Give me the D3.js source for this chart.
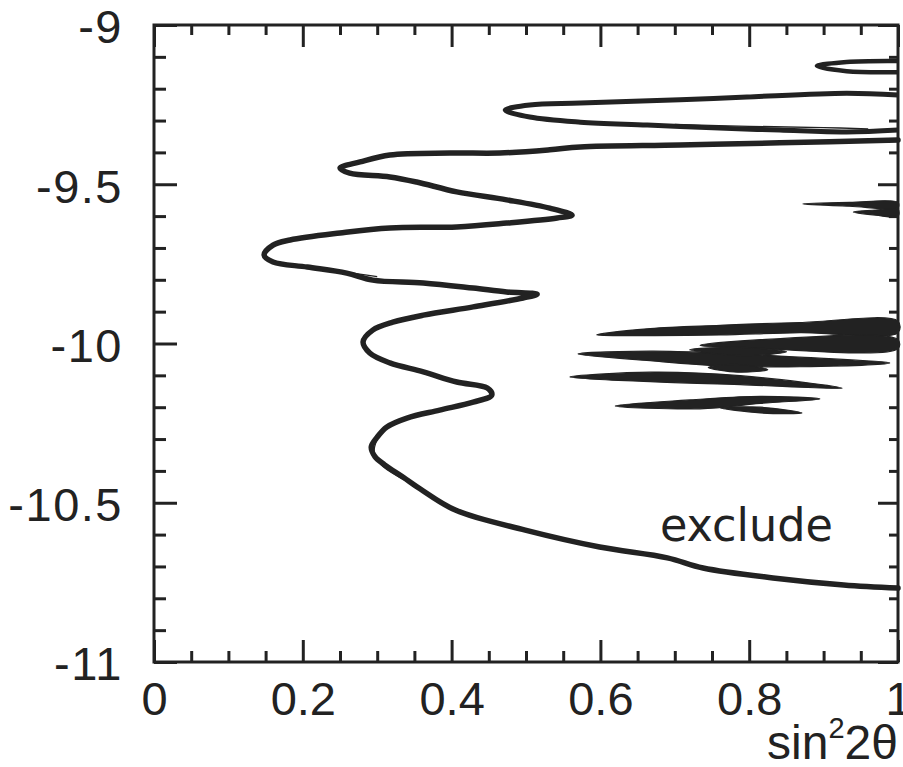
<!DOCTYPE html>
<html><head><meta charset="utf-8">
<script src="https://cdn.jsdelivr.net/npm/d3@7"></script>
<style>body{margin:0;background:#fff}</style>
</head><body>
<svg id="c" width="903" height="767"></svg>
<script>
// ---------- data ----------
const xDomain = [0, 1];
const yDomain = [-11, -9];
const xMajorTicks = [0, 0.2, 0.4, 0.6, 0.8, 1];
const xTickLabels = ["0", "0.2", "0.4", "0.6", "0.8", "1"];
const xMinorTicks = [0.05,0.1,0.15,0.25,0.3,0.35,0.45,0.5,0.55,0.65,0.7,0.75,0.85,0.9,0.95];
const yMajorTicks = [-9, -9.5, -10, -10.5, -11];
const yTickLabels = ["-9", "-9.5", "-10", "-10.5", "-11"];
const yMinorTicks = [-9.1,-9.2,-9.3,-9.4,-9.6,-9.7,-9.8,-9.9,-10.1,-10.2,-10.3,-10.4,-10.6,-10.7,-10.8,-10.9];
const xLabelMain = "sin", xLabelSup = "2", xLabelTail = "2θ";
const annotation = "exclude";

// main exclusion contour (sin^2 2θ, log Δm²)
const mainContour = [[1.0,-9.361],[0.841,-9.370],[0.707,-9.377],[0.573,-9.383],[0.532,-9.392],[0.465,-9.402],[0.398,-9.402],[0.317,-9.408],[0.277,-9.430],[0.250,-9.449],[0.263,-9.465],[0.317,-9.477],[0.353,-9.493],[0.407,-9.524],[0.474,-9.549],[0.532,-9.575],[0.562,-9.597],[0.542,-9.606],[0.474,-9.622],[0.407,-9.634],[0.317,-9.637],[0.250,-9.653],[0.183,-9.675],[0.160,-9.691],[0.148,-9.722],[0.160,-9.744],[0.206,-9.760],[0.259,-9.779],[0.294,-9.801],[0.362,-9.810],[0.429,-9.826],[0.474,-9.838],[0.515,-9.845],[0.496,-9.857],[0.429,-9.885],[0.362,-9.911],[0.321,-9.933],[0.294,-9.958],[0.281,-9.995],[0.290,-10.030],[0.317,-10.061],[0.362,-10.089],[0.407,-10.121],[0.448,-10.140],[0.454,-10.162],[0.429,-10.184],[0.384,-10.209],[0.340,-10.234],[0.313,-10.262],[0.300,-10.294],[0.292,-10.325],[0.297,-10.355],[0.310,-10.381],[0.335,-10.420],[0.358,-10.457],[0.405,-10.523],[0.499,-10.586],[0.599,-10.639],[0.690,-10.673],[0.738,-10.705],[0.832,-10.736],[0.927,-10.758],[1.0,-10.768]];
// faint inner doubled traces of the contour
const innerTrace1 = [[0.160,-9.740],[0.200,-9.762],[0.255,-9.775],[0.300,-9.790]];
const innerTrace2 = [[0.300,-10.300],[0.296,-10.340],[0.305,-10.380],[0.330,-10.420],[0.360,-10.455]];
const upperLoop = [[1.0,-9.220],[0.931,-9.214],[0.797,-9.226],[0.707,-9.235],[0.573,-9.245],[0.505,-9.251],[0.472,-9.267],[0.505,-9.289],[0.573,-9.305],[0.663,-9.314],[0.751,-9.323],[0.841,-9.330],[0.931,-9.336],[1.0,-9.330]];
const upperLoopInner = [[0.700,-9.312],[0.800,-9.318],[0.900,-9.322],[0.960,-9.326]];
const topLoop = [[1.0,-9.113],[0.931,-9.116],[0.891,-9.129],[0.931,-9.145],[1.0,-9.148]];
// filled islands: [sin^2 2θ, centre log Δm², half-thickness in log Δm²]
const islandT1 = [[0.872,-9.562,0],[0.935,-9.563,0.006],[1.0,-9.565,0.008]];
const islandT2 = [[0.940,-9.587,0],[0.970,-9.589,0.008],[1.0,-9.590,0.011]];
const islandA = [[0.595,-9.973,0],[0.667,-9.964,0.011],[0.761,-9.958,0.015],[0.868,-9.950,0.016],[1.0,-9.948,0.018]];
const islandB = [[0.734,-10.006,0],[0.815,-10.002,0.014],[1.0,-10.002,0.014]];
const islandC = [[0.570,-10.033,0],[0.667,-10.039,0.015],[0.761,-10.050,0.020],[0.868,-10.058,0.015],[0.989,-10.061,0]];
const islandD = [[0.559,-10.105,0],[0.667,-10.105,0.015],[0.788,-10.115,0.014],[0.925,-10.140,0]];
const islandE = [[0.620,-10.196,0],[0.734,-10.190,0.015],[0.815,-10.177,0.011],[0.895,-10.174,0]];
const islandF = [[0.761,-10.202,0],[0.815,-10.209,0.009],[0.871,-10.218,0]];
const islandG = [[0.720,-10.020,0],[0.790,-10.025,0.013],[0.850,-10.026,0]];
const islandH = [[0.745,-10.075,0],[0.785,-10.078,0.012],[0.825,-10.082,0]];

// ---------- drawing ----------
const W = 903, H = 767;
const m = {left:154, right:5, top:25, bottom:105};
const ink = "#222";
const font = "'Liberation Sans', Arial, Helvetica, sans-serif";
const svg = d3.select("#c");
const x = d3.scaleLinear().domain(xDomain).range([m.left, W - m.right]);
const y = d3.scaleLinear().domain(yDomain).range([H - m.bottom, m.top]);

const line = d3.line().x(d => x(d[0])).y(d => y(d[1])).curve(d3.curveCatmullRom.alpha(0.5));
const closed = d3.line().x(d => x(d[0])).y(d => y(d[1])).curve(d3.curveCatmullRomClosed.alpha(0.5));
function islandOutline(c){
  const up = c.map(d => [d[0], d[1] + d[2]]);
  const lo = c.filter(d => d[2] > 0).map(d => [d[0], d[1] - d[2]]).reverse();
  return up.concat(lo);
}

const plot = svg.append("g");
[islandA, islandB, islandC, islandD, islandE, islandF, islandG, islandH, islandT1, islandT2].forEach(c => {
  plot.append("path").attr("d", closed(islandOutline(c))).attr("fill", ink).attr("stroke", ink).attr("stroke-width", 1.2).attr("stroke-linejoin","round");
});
plot.append("path").attr("d", line(mainContour)).attr("fill","none").attr("stroke",ink).attr("stroke-width",5.5).attr("stroke-linejoin","round").attr("stroke-linecap","round");
[innerTrace1, innerTrace2, upperLoopInner].forEach(c => {
  plot.append("path").attr("d", line(c)).attr("fill","none").attr("stroke",ink).attr("stroke-width",1.3);
});
plot.append("path").attr("d", line(upperLoop)).attr("fill","none").attr("stroke",ink).attr("stroke-width",5).attr("stroke-linejoin","round");
plot.append("path").attr("d", line(topLoop)).attr("fill","none").attr("stroke",ink).attr("stroke-width",4.5).attr("stroke-linejoin","round");

function styleAxis(g){
  g.select(".domain").remove();
  g.selectAll("line").attr("stroke", ink).attr("stroke-width", 3);
  g.selectAll("text").attr("fill", ink).attr("font-family", font).attr("font-size", 47);
}
// bottom
svg.append("g").attr("transform",`translate(0,${y(-11)})`)
  .call(d3.axisBottom(x).tickValues(xMajorTicks).tickSize(-22).tickPadding(20).tickFormat((d,i)=>xTickLabels[i])).call(styleAxis);
svg.append("g").attr("transform",`translate(0,${y(-11)})`)
  .call(d3.axisBottom(x).tickValues(xMinorTicks).tickSize(-11).tickFormat("")).call(styleAxis);
// top
svg.append("g").attr("transform",`translate(0,${y(-9)})`)
  .call(d3.axisTop(x).tickValues(xMajorTicks).tickSize(-22).tickFormat("")).call(styleAxis);
svg.append("g").attr("transform",`translate(0,${y(-9)})`)
  .call(d3.axisTop(x).tickValues(xMinorTicks).tickSize(-10).tickFormat("")).call(styleAxis);
// left
const gl = svg.append("g").attr("transform",`translate(${x(0)},0)`)
  .call(d3.axisLeft(y).tickValues(yMajorTicks).tickSize(-23).tickPadding(31).tickFormat((d,i)=>yTickLabels[i])).call(styleAxis);
gl.selectAll("text").attr("dy","0.38em").attr("letter-spacing", 1.5);
svg.append("g").attr("transform",`translate(${x(0)},0)`)
  .call(d3.axisLeft(y).tickValues(yMinorTicks).tickSize(-12).tickFormat("")).call(styleAxis);
// right
svg.append("g").attr("transform",`translate(${x(1)},0)`)
  .call(d3.axisRight(y).tickValues(yMajorTicks).tickSize(-20).tickFormat("")).call(styleAxis);
svg.append("g").attr("transform",`translate(${x(1)},0)`)
  .call(d3.axisRight(y).tickValues(yMinorTicks).tickSize(-9).tickFormat("")).call(styleAxis);

// frame
svg.append("rect").attr("x", x(0)).attr("y", y(-9)).attr("width", x(1)-x(0)).attr("height", y(-11)-y(-9))
  .attr("fill","none").attr("stroke",ink).attr("stroke-width",3);

// axis title
const t = svg.append("text").attr("x", x(1)).attr("y", H - 8).attr("text-anchor","end")
  .attr("font-family", font).attr("font-size", 48).attr("fill", ink);
t.append("tspan").text(xLabelMain);
t.append("tspan").attr("font-size", 29).attr("dy", -21).text(xLabelSup);
t.append("tspan").attr("dy", 21).text(xLabelTail);

// annotation
svg.append("text").attr("x", x(0.68)).attr("y", y(-10.62)).attr("font-family", "'DejaVu Sans', sans-serif")
  .attr("font-size", 46).attr("fill", ink).attr("textLength", 173).attr("lengthAdjust","spacingAndGlyphs").text(annotation);
</script>
</body></html>
